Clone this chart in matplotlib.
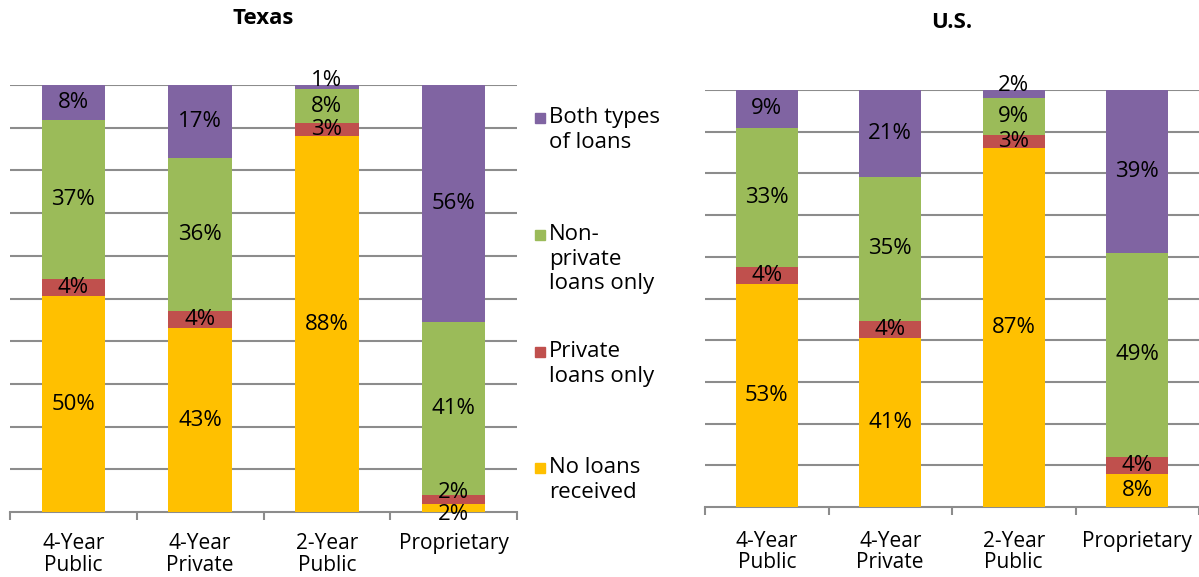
import numpy as np
import matplotlib.pyplot as plt
from matplotlib.patches import Rectangle

plt.rcParams['font.family'] = ['Open Sans', 'DejaVu Sans']

categories = ["4-Year\nPublic", "4-Year\nPrivate", "2-Year\nPublic", "Proprietary"]
series_names = ["No loans\nreceived", "Private\nloans only", "Non-\nprivate\nloans only", "Both types\nof loans"]
colors = ["#FFC000", "#C0504D", "#9BBB59", "#8064A2"]

# percentages, bottom to top
texas_no_loans = [50, 43, 88, 2]
texas_private = [4, 4, 3, 2]
texas_nonprivate = [37, 36, 8, 41]
texas_both = [8, 17, 1, 56]

us_no_loans = [53, 41, 87, 8]
us_private = [4, 4, 3, 4]
us_nonprivate = [33, 35, 9, 49]
us_both = [9, 21, 2, 39]

fig = plt.figure(figsize=(11.99, 5.77), dpi=100)
ax_tx = fig.add_axes([10 / 1199, 1 - 512 / 577, 507 / 1199, 427 / 577])
ax_us = fig.add_axes([705 / 1199, 1 - 507 / 577, 494 / 1199, 417 / 577])


def draw_panel(ax, title, series, title_y, nudges, pad):
    data = np.array(series, dtype=float)
    shares = data / data.sum(axis=0) * 100  # 100% stacked
    x = np.arange(len(categories))
    bottom = np.zeros(len(categories))
    for si, (vals, raw, col) in enumerate(zip(shares, data, colors)):
        ax.bar(x, vals, 0.5, bottom=bottom, color=col, zorder=3)
        for xi, b, v, r in zip(x, bottom, vals, raw):
            dy = nudges.get((si, xi), 0)
            ax.annotate(f"{int(r)}%", (xi, b + v / 2), xytext=(0, dy),
                        textcoords="offset points", ha="center", va="center",
                        fontsize=16, color="black", zorder=4)
        bottom += vals
    ax.set_xlim(-0.5, len(categories) - 0.5)
    ax.set_ylim(0, 100)
    ax.set_yticks(np.arange(10, 101, 10))
    ax.yaxis.grid(True, color="#8c8c8c", linewidth=1.5, zorder=0)
    ax.tick_params(axis="y", length=0, labelleft=False)
    ax.set_xticks(x)
    ax.set_xticklabels(categories, fontsize=15, linespacing=1.05)
    ax.set_xticks(np.arange(-0.5, len(categories), 1), minor=True)
    ax.tick_params(axis="x", which="major", length=0, pad=pad)
    ax.tick_params(axis="x", which="minor", length=6, width=1.5, color="#8c8c8c")
    for s in ["left", "right", "top"]:
        ax.spines[s].set_visible(False)
    ax.spines["bottom"].set_color("#8c8c8c")
    ax.spines["bottom"].set_linewidth(1.5)
    ax.set_axisbelow(True)
    bbox = ax.get_position()
    fig.text((bbox.x0 + bbox.x1) / 2, title_y, title, ha="center", va="center",
             fontsize=16, fontweight="bold")


draw_panel(ax_tx, "Texas", [texas_no_loans, texas_private, texas_nonprivate, texas_both],
           1 - 19 / 577, {(0, 3): -5, (1, 3): 5, (3, 2): 5}, 15)
draw_panel(ax_us, "U.S.", [us_no_loans, us_private, us_nonprivate, us_both],
           1 - 23 / 577, {(3, 2): 6}, 17)

# legend, top entry first
legend_y = [130, 259, 364, 480]
for name, col, ly in zip(series_names[::-1], colors[::-1], legend_y):
    n = name.count("\n") + 1
    first_line_y = ly - (n - 1) * 24 / 2
    fig.patches.append(Rectangle((535 / 1199, 1 - (first_line_y + 5) / 577), 10 / 1199, 10 / 577,
                                 transform=fig.transFigure, color=col))
    fig.text(549 / 1199, 1 - ly / 577, name, ha="left", va="center",
             fontsize=16, linespacing=1.2)

fig.savefig("out.png", dpi=100)
